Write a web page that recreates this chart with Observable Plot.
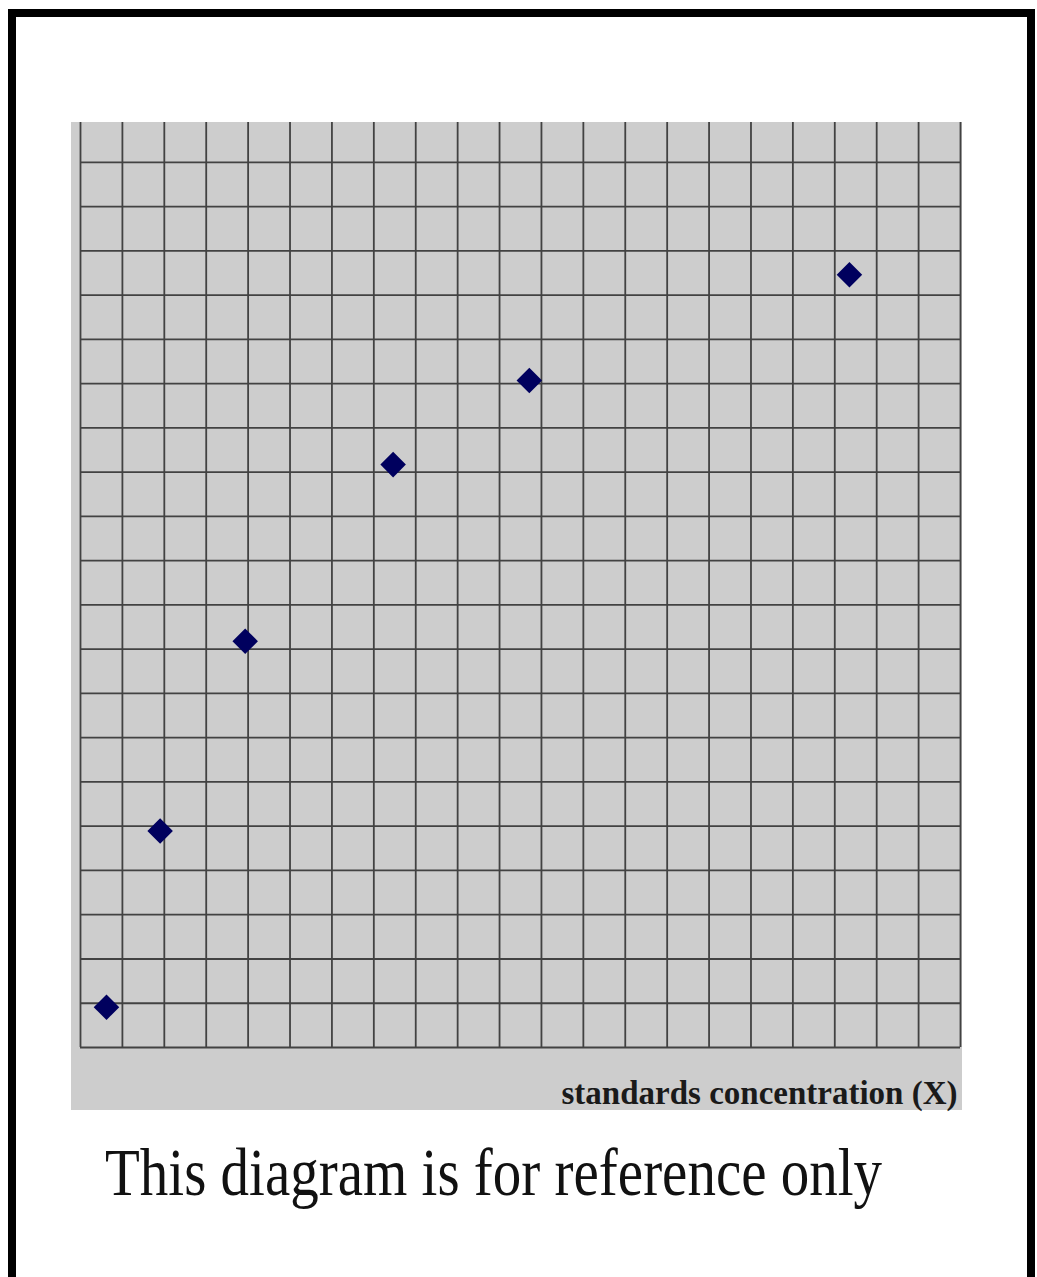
<!DOCTYPE html>
<html>
<head>
<meta charset="utf-8">
<script src="https://cdn.jsdelivr.net/npm/d3@7"></script>
<script src="https://cdn.jsdelivr.net/npm/@observablehq/plot@0.6"></script>
<style>
  html, body { margin: 0; padding: 0; background: #ffffff; width: 1037px; height: 1277px; overflow: hidden; }
  #frame { position: absolute; left: 8px; top: 9px; width: 1011px; height: 1300px; border: 8px solid #000; box-sizing: content-box; }
  #chart { position: absolute; left: 71px; top: 122px; }
  #caption { position: absolute; left: 105px; top: 1147px; font-family: "Liberation Serif", "Times New Roman", serif; font-size: 57px; line-height: 1; color: #111; white-space: nowrap; transform-origin: 0 48px; transform: scaleY(1.2); }
</style>
</head>
<body>
<div id="frame"></div>
<div id="chart"></div>
<div id="caption"></div>
<script>
// Data (grid units)
const concentration = [0.62, 1.90, 3.93, 7.46, 10.71, 18.35];
const response = [0.91, 4.89, 9.18, 13.17, 15.07, 17.46];
const xGridTicks = [0,1,2,3,4,5,6,7,8,9,10,11,12,13,14,15,16,17,18,19,20,21];
const yGridTicks = [0,1,2,3,4,5,6,7,8,9,10,11,12,13,14,15,16,17,18,19,20];
const xLabel = "standards concentration (X)";
const captionText = "This diagram is for reference only";

const points = concentration.map((x, i) => ({x, y: response[i]}));

const chart = Plot.plot({
  width: 891,
  height: 988,
  marginLeft: 9,
  marginRight: 2,
  marginTop: 0,
  marginBottom: 63,
  x: {domain: [0, 21], axis: null},
  y: {domain: [0, 20.9], axis: null},
  style: {background: "#cdcdcd", overflow: "visible"},
  marks: [
    Plot.gridX(xGridTicks, {stroke: "#424242", strokeOpacity: 1, strokeWidth: 1.8}),
    Plot.gridY(yGridTicks, {stroke: "#424242", strokeOpacity: 1, strokeWidth: 1.8}),
    Plot.dot(points, {x: "x", y: "y", symbol: "diamond2", r: 11.5, fill: "#00005e", stroke: "none"}),
    Plot.text([xLabel], {
      frameAnchor: "bottom-right",
      textAnchor: "end",
      lineAnchor: "middle",
      dx: -3,
      dy: 46,
      fontSize: 33,
      fontWeight: "bold",
      fontFamily: "Liberation Serif",
      fill: "#1a1a1a"
    })
  ]
});
document.getElementById("chart").appendChild(chart);
document.getElementById("caption").textContent = captionText;
</script>
</body>
</html>
